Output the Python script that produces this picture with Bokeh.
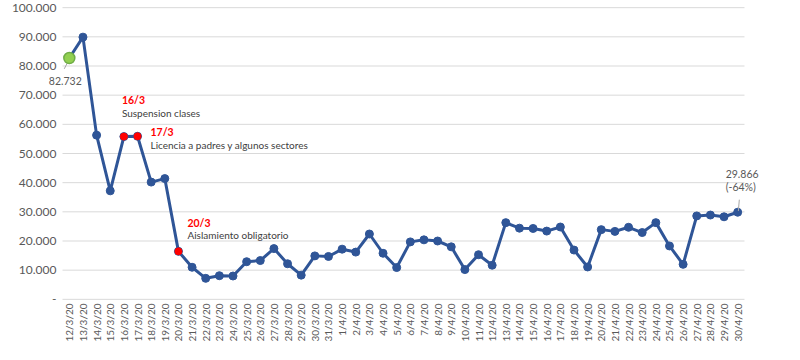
from bokeh.plotting import figure
from bokeh.models import FactorRange, Range1d, FixedTicker, ColumnDataSource, Label
from bokeh.transform import dodge
from bokeh.embed import file_html
from bokeh.resources import INLINE
import math

dates = ["12/3/20", "13/3/20", "14/3/20", "15/3/20", "16/3/20", "17/3/20", "18/3/20",
         "19/3/20", "20/3/20", "21/3/20", "22/3/20", "23/3/20", "24/3/20", "25/3/20",
         "26/3/20", "27/3/20", "28/3/20", "29/3/20", "30/3/20", "31/3/20",
         "1/4/20", "2/4/20", "3/4/20", "4/4/20", "5/4/20", "6/4/20", "7/4/20", "8/4/20",
         "9/4/20", "10/4/20", "11/4/20", "12/4/20", "13/4/20", "14/4/20", "15/4/20",
         "16/4/20", "17/4/20", "18/4/20", "19/4/20", "20/4/20", "21/4/20", "22/4/20",
         "23/4/20", "24/4/20", "25/4/20", "26/4/20", "27/4/20", "28/4/20", "29/4/20", "30/4/20"]

values = [82732, 89900, 56300, 37200, 55800, 55900, 40200, 41400, 16450, 11000,
          7200, 8100, 8000, 12900, 13300, 17400, 12200, 8300, 14900, 14700,
          17200, 16200, 22400, 15800, 10900, 19700, 20400, 20000, 18000, 10200,
          15300, 11700, 26300, 24400, 24300, 23400, 24800, 16900, 11100, 23900,
          23300, 24700, 22900, 26300, 18300, 12000, 28600, 28900, 28300, 29866]

y_ticks = [0, 10000, 20000, 30000, 40000, 50000, 60000, 70000, 80000, 90000, 100000]
y_tick_labels = ["-", "10.000", "20.000", "30.000", "40.000", "50.000",
                 "60.000", "70.000", "80.000", "90.000", "100.000"]

event_dates = ["16/3/20", "17/3/20", "20/3/20"]
event_titles = ["16/3", "17/3", "20/3"]
event_texts = ["Suspension clases", "Licencia a padres y algunos sectores", "Aislamiento obligatorio"]

FONT = "Lato"
BLUE = "#2F5597"
GRID = "#D9D9D9"

def fmt(v):
    return f"{v:,}".replace(",", ".")

x_range = FactorRange(*dates, range_padding=1.1, range_padding_units="absolute")
p = figure(width=781, height=344, x_range=x_range,
           y_range=Range1d(-400, 100400), output_backend="svg", toolbar_location=None,
           min_border_left=47, min_border_right=22, min_border_top=6, min_border_bottom=44)
p.outline_line_color = None
p.background_fill_color = "white"
p.border_fill_color = "white"

p.xgrid.grid_line_color = None
p.ygrid.grid_line_color = None

p.yaxis.ticker = FixedTicker(ticks=y_ticks)
p.yaxis.major_label_overrides = {t: l for t, l in zip(y_ticks, y_tick_labels)}
p.yaxis.axis_line_color = None
p.yaxis.major_tick_line_color = None
p.yaxis.minor_tick_line_color = None
p.yaxis.major_tick_out = 0
p.yaxis.major_label_standoff = -9
p.yaxis.major_label_text_font = FONT
p.yaxis.major_label_text_font_size = "12px"
p.yaxis.major_label_text_color = "#595959"

p.xaxis.axis_line_color = None
p.xaxis.major_tick_line_color = None
p.xaxis.major_tick_out = 0
p.xaxis.major_label_standoff = 3
p.xaxis.major_label_orientation = math.pi / 2
p.xaxis.major_label_text_font = FONT
p.xaxis.major_label_text_font_size = "10px"
p.xaxis.major_label_text_color = "#595959"

# horizontal gridlines (and category axis line at 0) spanning the category band only
gsrc = ColumnDataSource(dict(x0=[dates[0]] * len(y_ticks), x1=[dates[-1]] * len(y_ticks), y=y_ticks))
p.segment(x0=dodge("x0", -0.5, range=x_range), y0="y",
          x1=dodge("x1", 0.5, range=x_range), y1="y",
          source=gsrc, line_color=GRID, line_width=1)

src = ColumnDataSource(dict(x=dates, y=values))
p.line("x", "y", source=src, line_color=BLUE, line_width=3)
p.scatter("x", "y", source=src, size=8, fill_color=BLUE, line_color=BLUE)

# leader lines
p.segment(x0=dodge("x", -0.07, range=x_range), y0="y0",
          x1=dodge("x", -0.37, range=x_range), y1="y1",
          source=ColumnDataSource(dict(x=[dates[0]], y0=[values[0] - 1000], y1=[values[0] - 3700])),
          line_color="#A6A6A6", line_width=1)
p.segment(x0=dodge("x", 0.05, range=x_range), y0="y0",
          x1=dodge("x", 0.12, range=x_range), y1="y1",
          source=ColumnDataSource(dict(x=[dates[-1]], y0=[values[-1] + 400], y1=[values[-1] + 4300])),
          line_color="#A6A6A6", line_width=1)

# event markers
vmap = dict(zip(dates, values))
ev_y = [vmap[d] for d in event_dates]
p.scatter(event_dates, ev_y, size=7, fill_color="#FF0000", line_color="#FF0000")

# start marker
p.scatter([dates[0]], [values[0]], size=11, fill_color="#92D050", line_color="#70AD47", line_width=1.5)

def xc(d):
    return dates.index(d) + 0.5

# event annotations
title_xo = [-2, 13, 9]
title_yo = [37, 4, 28]
text_yo = [24, -9, 16]
for d, yv, t, s, xo, ty, sy in zip(event_dates, ev_y, event_titles, event_texts, title_xo, title_yo, text_yo):
    p.add_layout(Label(x=xc(d), y=yv, text=t, x_offset=xo, y_offset=ty,
                       text_font=FONT, text_font_size="10.5px", text_font_style="bold",
                       text_color="#FF0000", text_baseline="middle", text_align="left"))
    p.add_layout(Label(x=xc(d), y=yv, text=s, x_offset=xo, y_offset=sy,
                       text_font=FONT, text_font_size="10px",
                       text_color="#404040", text_baseline="middle", text_align="left"))

# first and last value labels
pct = round((values[-1] / values[0] - 1) * 100)
p.add_layout(Label(x=xc(dates[0]), y=values[0], text=fmt(values[0]), x_offset=-4, y_offset=-23,
                   text_font=FONT, text_font_size="10.5px", text_color="#595959",
                   text_baseline="middle", text_align="center"))
p.add_layout(Label(x=xc(dates[-1]), y=values[-1], text=fmt(values[-1]), x_offset=-12, y_offset=38,
                   text_font=FONT, text_font_size="10.5px", text_color="#595959",
                   text_baseline="middle", text_align="left"))
p.add_layout(Label(x=xc(dates[-1]), y=values[-1], text=f"({pct}%)", x_offset=-12, y_offset=25,
                   text_font=FONT, text_font_size="10.5px", text_color="#595959",
                   text_baseline="middle", text_align="left"))

open("out.html", "w").write(file_html(p, INLINE))
